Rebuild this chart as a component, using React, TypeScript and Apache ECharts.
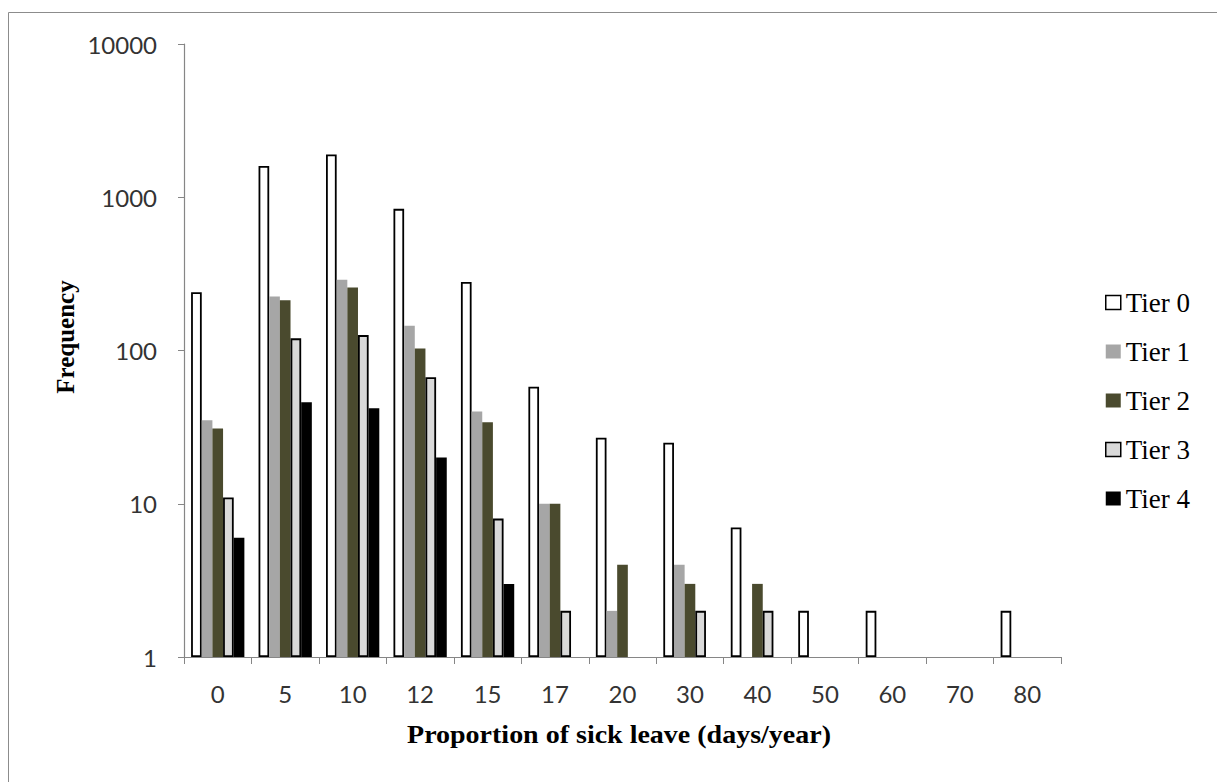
import React, { useEffect, useRef } from "react";
import * as echarts from "echarts";

const categories = ["0", "5", "10", "12", "15", "17", "20", "30", "40", "50", "60", "70", "80"];
const tier0 = [240, 1600, 1900, 840, 280, 58, 27, 25, 7, 2, 2, "-", 2];
const tier1 = [35, 225, 290, 145, 40, 10, 2, 4, "-", "-", "-", "-", "-"];
const tier2 = [31, 213, 258, 103, 34, 10, 4, 3, 3, "-", "-", "-", "-"];
const tier3 = [11, 120, 126, 67, 8, 2, "-", 2, 2, "-", "-", "-", "-"];
const tier4 = [6, 46, 42, 20, 3, "-", "-", "-", "-", "-", "-", "-", "-"];
const seriesNames = ["Tier 0", "Tier 1", "Tier 2", "Tier 3", "Tier 4"];
const yTicks = [1, 10, 100, 1000, 10000];

const xTitle = "Proportion of sick leave (days/year)";
const yTitle = "Frequency";

export default function App() {
  const ref = useRef<HTMLDivElement>(null);
  useEffect(() => {
    const chart = echarts.init(ref.current!, null, { renderer: "svg" });
    const styles = [
      { color: "#ffffff", borderColor: "#000000", borderWidth: 1.8 },
      { color: "#a6a6a6", borderColor: "#a6a6a6", borderWidth: 0 },
      { color: "#4a4a2e", borderColor: "#4a4a2e", borderWidth: 0 },
      { color: "#d9d9d9", borderColor: "#000000", borderWidth: 1.8 },
      { color: "#000000", borderColor: "#000000", borderWidth: 0 },
    ];
    const data = [tier0, tier1, tier2, tier3, tier4];
    const serif = "Liberation Serif";
    const sans = "Lato";
    chart.setOption({
      animation: false,
      backgroundColor: "#ffffff",
      grid: { left: 184, right: 156, top: 44, bottom: 125, containLabel: false },
      legend: {
        orient: "vertical",
        left: 1105,
        top: 289,
        padding: 0,
        itemWidth: 15,
        itemHeight: 14,
        itemGap: 22,
        textStyle: { fontFamily: serif, fontSize: 27, color: "#000" },
        data: seriesNames.map((n, i) => ({
          name: n,
          icon: "rect",
          itemStyle: { color: styles[i].color, borderColor: styles[i].borderColor, borderWidth: styles[i].borderWidth ? 1.5 : 0 },
        })),
      },
      xAxis: {
        type: "category",
        data: categories,
        axisLine: { lineStyle: { color: "#868686", width: 1.2 } },
        axisTick: { show: true, length: 7, lineStyle: { color: "#868686" } },
        axisLabel: { fontFamily: sans, fontSize: 24, color: "#333", margin: 24 },
      },
      yAxis: {
        type: "log",
        logBase: 10,
        min: yTicks[0],
        max: yTicks[yTicks.length - 1],
        axisLine: { show: true, lineStyle: { color: "#868686", width: 1.2 } },
        axisTick: { show: true, length: 6, lineStyle: { color: "#868686" } },
        splitLine: { show: false },
        minorTick: { show: false },
        axisLabel: {
          fontFamily: sans,
          fontSize: 24,
          color: "#333",
          margin: 27,
          formatter: (v: number) => String(Math.round(v)),
        },
      },
      series: data.map((d, i) => ({
        name: seriesNames[i],
        type: "bar",
        data: d,
        barGap: "0%",
        barCategoryGap: "21%",
        itemStyle: styles[i],
      })),
      graphic: [
        {
          type: "rect",
          silent: true,
          shape: { x: 8.5, y: 12.5, width: 1400, height: 1000 },
          style: { fill: "none", stroke: "#8c8c8c", lineWidth: 1 },
        },
        {
          type: "text",
          x: 619,
          y: 735,
          scaleX: 1.12,
          style: { text: xTitle, font: `bold 25px ${serif}`, fill: "#000", align: "center", verticalAlign: "middle" },
        },
        {
          type: "text",
          x: 65,
          y: 337,
          rotation: Math.PI / 2,
          style: { text: yTitle, font: `bold 25px ${serif}`, fill: "#000", align: "center", verticalAlign: "middle" },
        },
      ],
    });
    return () => chart.dispose();
  }, []);
  return <div ref={ref} style={{ position: "fixed", left: 0, top: 0, width: 1217, height: 782 }} />;
}
